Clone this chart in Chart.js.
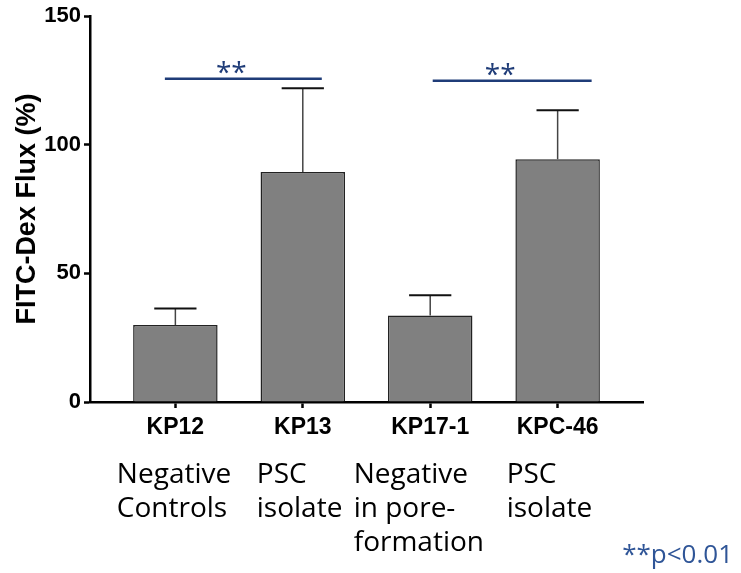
<!DOCTYPE html>
<html><head><meta charset="utf-8">
<script src="https://cdn.jsdelivr.net/npm/chart.js@4.4.1/dist/chart.umd.min.js"></script>
<style>html,body{margin:0;padding:0;background:#fff}#wrap{width:741px;height:573px;position:relative}</style>
</head><body><div id="wrap"><canvas id="c" width="741" height="573"></canvas></div>
<script>
// ---- data ----
const categories = ["KP12", "KP13", "KP17-1", "KPC-46"];
const fluxMean = [29.9, 89.4, 33.6, 94.4];
const fluxSD = [6.5, 32.6, 7.9, 19.0];
const yTicks = [0, 50, 100, 150];
const groupNotes = [["Negative", "Controls"], ["PSC", "isolate"], ["Negative", "in pore-", "formation"], ["PSC", "isolate"]];
const sigFrom = [0, 2];
const sigTo = [1, 3];
const sigLevel = [125.7, 124.9];
const sigMark = ["**", "**"];
const pNote = "**p<0.01";

// ---- layout / style constants ----
const NOTE_DX = [-58.5, -46, -76.5, -51];
const NOTE_BASE = [81, 115, 149];
const SIG_DX = [[-10.5, 19], [2.5, 34]];
const SIG_COLOR = '#1F3C78';
const ARIAL = '"Liberation Sans", Arial, sans-serif';
const SEGOE = '"Open Sans", "Noto Sans", sans-serif';

const annot = {
  id: 'annot',
  afterDatasetsDraw(chart) {
    const ctx = chart.ctx, x = chart.scales.x, y = chart.scales.y;
    const meta = chart.getDatasetMeta(0);
    ctx.save();
    // error bars
    meta.data.forEach((bar, i) => {
      const cx = x.getPixelForValue(i);
      const yTop = y.getPixelForValue(fluxMean[i]);
      const yErr = y.getPixelForValue(fluxMean[i] + fluxSD[i]);
      const half = bar.width / 4;
      ctx.strokeStyle = '#444';
      ctx.lineWidth = 1.5;
      ctx.beginPath(); ctx.moveTo(cx, yTop); ctx.lineTo(cx, yErr); ctx.stroke();
      ctx.strokeStyle = '#111';
      ctx.lineWidth = 2;
      ctx.beginPath(); ctx.moveTo(cx - half, yErr); ctx.lineTo(cx + half, yErr); ctx.stroke();
    });
    // significance
    sigFrom.forEach((f, k) => {
      const x1 = x.getPixelForValue(f) + SIG_DX[k][0];
      const x2 = x.getPixelForValue(sigTo[k]) + SIG_DX[k][1];
      const yy = y.getPixelForValue(sigLevel[k]);
      ctx.strokeStyle = SIG_COLOR; ctx.lineWidth = 2.5;
      ctx.beginPath(); ctx.moveTo(x1, yy); ctx.lineTo(x2, yy); ctx.stroke();
      ctx.fillStyle = SIG_COLOR;
      ctx.font = '28px ' + SEGOE;
      ctx.textAlign = 'center'; ctx.textBaseline = 'alphabetic';
      ctx.fillText(sigMark[k], (x1 + x2) / 2 - 12, yy + 3);
    });
    // group notes
    ctx.fillStyle = '#000';
    ctx.font = '28px ' + SEGOE;
    ctx.textAlign = 'left'; ctx.textBaseline = 'alphabetic';
    groupNotes.forEach((lines, i) => {
      const lx = x.getPixelForValue(i) + NOTE_DX[i];
      lines.forEach((t, j) => ctx.fillText(t, lx, chart.chartArea.bottom + NOTE_BASE[j]));
    });
    // p note
    ctx.fillStyle = '#2F5597';
    ctx.font = '26px ' + SEGOE;
    ctx.textAlign = 'right';
    ctx.fillText(pNote, 733, 563);
    ctx.restore();
  }
};

new Chart(document.getElementById('c'), {
  type: 'bar',
  data: {
    datasets: [{
      data: categories.map((c, i) => ({ x: i, y: fluxMean[i] })),
      backgroundColor: '#808080',
      borderColor: '#222',
      borderWidth: 1.5,
      barPercentage: 0.663,
      categoryPercentage: 1
    }]
  },
  options: {
    responsive: false,
    devicePixelRatio: 1,
    animation: false,
    layout: { padding: { top: 15.5, right: 98, left: 0, bottom: 0 } },
    plugins: { legend: { display: false }, tooltip: { enabled: false } },
    scales: {
      x: {
        type: 'linear', min: -0.67, max: 3.67, offset: false,
        afterBuildTicks: s => { s.ticks = categories.map((c, i) => ({ value: i })); },
        afterFit: s => { s.height = 171; },
        ticks: {
          callback: v => categories[v] ?? '',
          color: '#000', font: { family: ARIAL, size: 23, weight: 'bold' },
          padding: 6, autoSkip: false, maxRotation: 0
        },
        grid: { offset: false, drawOnChartArea: false, drawTicks: true, tickLength: 6, color: '#000', tickWidth: 2.5 },
        border: { display: true, color: '#000', width: 2.5 }
      },
      y: {
        min: 0, max: 150,
        afterBuildTicks: s => { s.ticks = yTicks.map(v => ({ value: v })); },
        afterFit: s => { s.width = 90; },
        ticks: { color: '#000', font: { family: ARIAL, size: 22, weight: 'bold' }, padding: 3 },
        grid: { drawOnChartArea: false, drawTicks: true, tickLength: 6, color: '#000', tickWidth: 2.5 },
        border: { display: true, color: '#000', width: 2.5 },
        title: {
          display: true, text: 'FITC-Dex Flux (%)', color: '#000',
          font: { family: ARIAL, size: 27, weight: 'bold' },
          padding: { top: 11, bottom: 0 }
        }
      }
    }
  },
  plugins: [annot]
});
</script></body></html>
